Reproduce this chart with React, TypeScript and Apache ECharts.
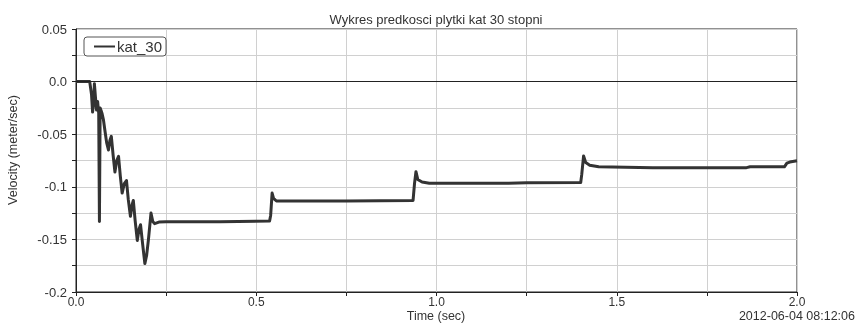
import React, { useEffect, useRef } from "react";
import * as echarts from "echarts";

const TITLE = "Wykres predkosci plytki kat 30 stopni";
const SERIES_NAME = "kat_30";
const X_NAME = "Time (sec)";
const Y_NAME = "Velocity (meter/sec)";
const STAMP = "2012-06-04 08:12:06";

const timeSec = [
  0, 0.038, 0.043, 0.046, 0.049, 0.051, 0.054, 0.057, 0.06, 0.063, 0.065, 0.067, 0.07, 0.072,
  0.076, 0.08, 0.085, 0.09, 0.094, 0.098, 0.103, 0.108, 0.113, 0.118, 0.123, 0.128, 0.134,
  0.14, 0.145, 0.151, 0.155, 0.159, 0.164, 0.17, 0.175, 0.179, 0.185, 0.191, 0.196, 0.201,
  0.208, 0.213, 0.218, 0.23, 0.25, 0.4, 0.537, 0.54, 0.544, 0.548, 0.556, 0.57, 0.75, 0.935,
  0.939, 0.943, 0.948, 0.96, 0.98, 1.2, 1.25, 1.4, 1.403, 1.408, 1.414, 1.425, 1.45, 1.6,
  1.86, 1.87, 1.965, 1.972, 1.98, 2.0,
];

const velocity = [
  0, 0, -0.012, -0.029, -0.02, -0.002, -0.015, -0.027, -0.019, -0.03, -0.133, -0.025, -0.028,
  -0.03, -0.036, -0.046, -0.058, -0.065, -0.056, -0.052, -0.07, -0.086, -0.075, -0.071, -0.09,
  -0.106, -0.097, -0.094, -0.112, -0.128, -0.118, -0.113, -0.132, -0.151, -0.14, -0.136,
  -0.155, -0.173, -0.165, -0.15, -0.125, -0.133, -0.135, -0.1335, -0.1332, -0.1332, -0.1325,
  -0.127, -0.106, -0.111, -0.1135, -0.1135, -0.1135, -0.113, -0.097, -0.0856, -0.093,
  -0.0955, -0.0967, -0.0967, -0.0962, -0.096, -0.088, -0.0707, -0.077, -0.0795, -0.0809,
  -0.0818, -0.0818, -0.081, -0.081, -0.0775, -0.0765, -0.0752,
];

const FONT = "'Liberation Sans', Arial, sans-serif";
const TXT = "#333";

const isMult = (v: number, step: number) => Math.abs(Math.round(v / step) * step - v) < 1e-9;

export default function App() {
  const ref = useRef<HTMLDivElement>(null);
  useEffect(() => {
    if (!ref.current) return;
    const chart = echarts.init(ref.current, null, { renderer: "svg" });
    const data = timeSec.map((t, i) => [t, velocity[i]]);
    chart.setOption({
      animation: false,
      textStyle: { fontFamily: FONT },
      grid: {
        left: 76,
        right: 61,
        top: 29,
        bottom: 35,
        show: true,
        borderColor: "#222",
        borderWidth: 1,
        containLabel: false,
      },
      legend: {
        data: [SERIES_NAME],
        left: 84,
        top: 37,
        orient: "vertical",
        icon: "rect",
        itemWidth: 21,
        itemHeight: 2,
        padding: [2, 4, 2, 10],
        borderColor: "#555",
        borderWidth: 1,
        borderRadius: 3,
        backgroundColor: "#fff",
        textStyle: { fontSize: 15, color: TXT, fontFamily: FONT, padding: [0, 0, 0, -3] },
      },
      xAxis: {
        type: "value",
        min: 0,
        max: 2,
        interval: 0.25,
        axisLine: { show: true, onZero: false, lineStyle: { color: "#222", width: 1 } },
        axisTick: { show: true, inside: false, length: 4, lineStyle: { color: "#222" } },
        axisLabel: {
          margin: 4,
          fontSize: 12,
          lineHeight: 12,
          color: TXT,
          fontFamily: FONT,
          formatter: (v: number) => (isMult(v, 0.5) ? v.toFixed(1) : ""),
        },
        splitLine: { show: true, lineStyle: { color: "#d0d0d0", width: 1 } },
      },
      yAxis: {
        type: "value",
        min: -0.2,
        max: 0.05,
        interval: 0.025,
        axisLine: { show: true, onZero: false, lineStyle: { color: "#222", width: 1 } },
        axisTick: { show: true, inside: false, length: 4, lineStyle: { color: "#222" } },
        axisLabel: {
          margin: 9,
          fontSize: 13,
          color: TXT,
          fontFamily: FONT,
          formatter: (v: number) => {
            if (!isMult(v, 0.05)) return "";
            if (Math.abs(v) < 1e-9) return "0.0";
            const r = Math.round(v * 100) / 100;
            return isMult(r, 0.1) ? r.toFixed(1) : r.toFixed(2);
          },
        },
        splitLine: { show: true, lineStyle: { color: "#d0d0d0", width: 1 } },
      },
      graphic: [
        {
          type: "text",
          x: 436,
          y: 19,
          style: {
            text: TITLE,
            font: `13px ${FONT}`,
            fill: TXT,
            textAlign: "center",
            textVerticalAlign: "middle",
          },
        },
        {
          type: "text",
          x: 436,
          y: 316,
          style: {
            text: X_NAME,
            font: `12.5px ${FONT}`,
            lineHeight: 12,
            fill: TXT,
            textAlign: "center",
            textVerticalAlign: "middle",
          },
        },
        {
          type: "text",
          x: 855,
          y: 316,
          style: {
            text: STAMP,
            font: `12.5px ${FONT}`,
            lineHeight: 12,
            fill: TXT,
            textAlign: "right",
            textVerticalAlign: "middle",
          },
        },
        {
          type: "text",
          x: 13,
          y: 150,
          rotation: Math.PI / 2,
          style: {
            text: Y_NAME,
            font: `12.5px ${FONT}`,
            fill: TXT,
            textAlign: "center",
            textVerticalAlign: "middle",
          },
        },
      ],
      series: [
        {
          name: SERIES_NAME,
          type: "line",
          data,
          showSymbol: false,
          symbol: "none",
          color: "#333",
          lineStyle: { color: "#333", width: 3, join: "round" },
          markLine: {
            silent: true,
            symbol: "none",
            label: { show: false },
            lineStyle: { color: "#222", width: 1, type: "solid" },
            data: [{ yAxis: 0 }],
          },
          z: 3,
        },
      ],
    });
    return () => chart.dispose();
  }, []);
  return (
    <div
      ref={ref}
      style={{ position: "fixed", left: 0, top: 0, width: 858, height: 327 }}
    />
  );
}
